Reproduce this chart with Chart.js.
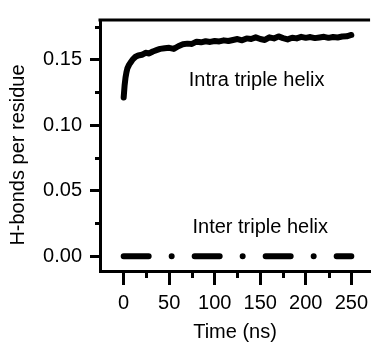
<!doctype html>
<html lang="en">
<head>
<meta charset="utf-8">
<title>H-bonds per residue</title>
<script src="https://cdn.jsdelivr.net/npm/chart.js@4.4.0/dist/chart.umd.min.js"></script>
<style>
  html, body { margin: 0; padding: 0; background: #fff; }
</style>
</head>
<body>
<canvas id="hb_plot" width="374" height="345"></canvas>

<script>
    // intra triple helix H-bonds
    var intra_time = [0, 1, 2, 3, 4, 6, 8, 10, 13, 16, 20, 24, 28, 32, 36, 40, 45, 50, 55, 60,
                      65, 70, 75, 80, 85, 90, 95, 100, 105, 110, 115, 120, 125, 130, 135, 140,
                      145, 150, 155, 160, 165, 170, 175, 180, 185, 190, 195, 200, 205, 210,
                      215, 220, 225, 230, 235, 240, 245, 250];
    var intra_hb = [0.121, 0.130, 0.136, 0.140, 0.143, 0.146, 0.148, 0.150, 0.152, 0.153, 0.1535,
                    0.155, 0.1545, 0.156, 0.157, 0.158, 0.1585, 0.1588, 0.158, 0.160,
                    0.1615, 0.162, 0.1618, 0.1635, 0.163, 0.1638, 0.1633, 0.164, 0.1637, 0.1645,
                    0.164, 0.1648, 0.1655, 0.1645, 0.166, 0.1655, 0.1668, 0.1655, 0.1648, 0.1668,
                    0.166, 0.1675, 0.1662, 0.1652, 0.1665, 0.166, 0.1672, 0.1664, 0.167, 0.1662,
                    0.1667, 0.1672, 0.1664, 0.167, 0.1667, 0.1674, 0.1676, 0.1686];

    // inter triple helix H-bonds (flat at zero)
    var inter_time = [0, 25, 50, 75, 100, 125, 150, 175, 200, 225, 250];
    var inter_hb = [0, 0, 0, 0, 0, 0, 0, 0, 0, 0, 0];

    var x_major = [0, 50, 100, 150, 200, 250];
    var x_minor = [25, 75, 125, 175, 225];
    var y_major = [0, 0.05, 0.10, 0.15];
    var y_minor = [0.025, 0.075, 0.125, 0.175];

    var FONT = "Arial, 'Liberation Sans', sans-serif";

    function to_pts(xs, ys) {
        return xs.map(function (x, i) { return {x: x, y: ys[i]}; });
    }

    // frame top line, minor ticks, curve labels, y title
    var extras = {
        id: "extras",
        afterDraw: function (chart) {
            var ctx = chart.ctx;
            var a = chart.chartArea;
            var xs = chart.scales.x, ys = chart.scales.y;
            ctx.save();
            ctx.strokeStyle = "#000";
            ctx.lineWidth = 3;
            ctx.beginPath();
            ctx.moveTo(a.left - 1.5, a.top);
            ctx.lineTo(a.right, a.top);
            x_minor.forEach(function (v) {
                var px = Math.round(xs.getPixelForValue(v)) + 0.5;
                ctx.moveTo(px, a.bottom);
                ctx.lineTo(px, a.bottom + 7);
            });
            y_minor.forEach(function (v) {
                var py = Math.round(ys.getPixelForValue(v)) + 0.5;
                ctx.moveTo(a.left - 5, py);
                ctx.lineTo(a.left, py);
            });
            ctx.stroke();

            ctx.fillStyle = "#000";
            ctx.font = "20px " + FONT;
            ctx.textAlign = "center";
            ctx.textBaseline = "middle";
            ctx.fillText("Intra triple helix", xs.getPixelForValue(146), ys.getPixelForValue(0.134));
            ctx.fillText("Inter triple helix", xs.getPixelForValue(150), ys.getPixelForValue(0.0217));

            ctx.translate(18, 155);
            ctx.rotate(-Math.PI / 2);
            ctx.fillText("H-bonds per residue", 0, 0);
            ctx.restore();
        }
    };

    Chart.defaults.font.family = FONT;
    Chart.defaults.font.size = 20;
    Chart.defaults.color = "#000";

    new Chart("hb_plot", {
        type: "line",
        data: {
            datasets: [
                {
                    label: "Intra triple helix",
                    data: to_pts(intra_time, intra_hb),
                    borderColor: "#000",
                    borderWidth: 6,
                    borderCapStyle: "round",
                    borderJoinStyle: "round",
                    pointRadius: 0,
                    tension: 0,
                    fill: false
                },
                {
                    label: "Inter triple helix",
                    data: to_pts(inter_time, inter_hb),
                    borderColor: "#000",
                    borderWidth: 6,
                    borderCapStyle: "round",
                    borderDash: [25, 23, 0, 23],
                    pointRadius: 0,
                    tension: 0,
                    fill: false
                }
            ]
        },
        options: {
            responsive: false,
            animation: false,
            layout: {padding: {top: 16, right: 0, bottom: 0, left: 0}},
            plugins: {legend: {display: false}, tooltip: {enabled: false}},
            scales: {
                x: {
                    type: "linear",
                    min: -26,
                    max: 270.6,
                    afterBuildTicks: function (s) { s.ticks = x_major.map(function (v) { return {value: v}; }); },
                    afterFit: function (s) { s.height = 74; },
                    ticks: {padding: 6, maxRotation: 0, autoSkip: false},
                    grid: {drawOnChartArea: false, tickLength: 14, tickWidth: 3, tickColor: "#000"},
                    border: {display: true, color: "#000", width: 3},
                    title: {display: true, text: "Time (ns)", padding: {top: 0, bottom: 1}}
                },
                y: {
                    type: "linear",
                    min: -0.0112,
                    max: 0.18,
                    afterBuildTicks: function (s) { s.ticks = y_major.map(function (v) { return {value: v}; }); },
                    afterFit: function (s) { s.width = 100; },
                    ticks: {padding: 8, callback: function (v) { return v.toFixed(2); }},
                    grid: {drawOnChartArea: false, tickLength: 10, tickWidth: 3, tickColor: "#000"},
                    border: {display: true, color: "#000", width: 3}
                }
            }
        },
        plugins: [extras]
    });
</script>
</body>
</html>
